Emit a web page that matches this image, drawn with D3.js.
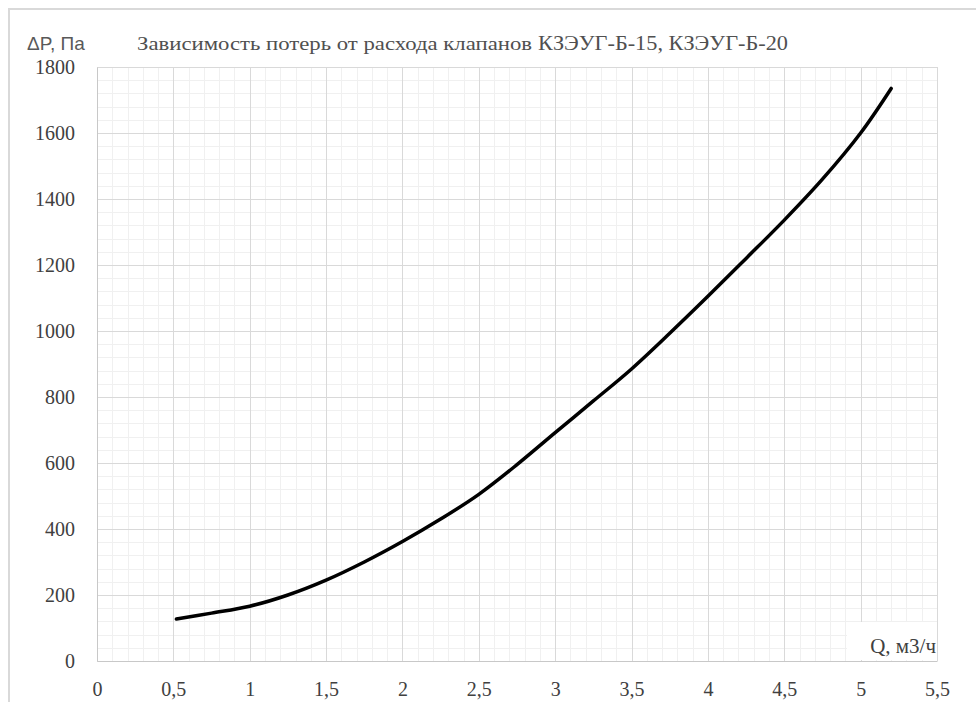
<!DOCTYPE html>
<html>
<head>
<meta charset="utf-8">
<script src="https://cdn.jsdelivr.net/npm/d3@7"></script>
<style>
  body { margin: 0; background: #fff; }
  svg { display: block; }
</style>
</head>
<body>
<div id="chart"></div>
<script>
// flow Q (m3/h) vs pressure loss dP (Pa)
var flowQ = [0.52, 0.75, 1, 1.25, 1.5, 1.75, 2, 2.25, 2.5, 2.75, 3, 3.25, 3.5, 3.75, 4, 4.25, 4.5, 4.75, 5, 5.2];
var lossP = [127, 145, 166, 200, 245, 300, 362, 430, 505, 595, 692, 788, 885, 993, 1105, 1220, 1336, 1460, 1600, 1735];
var xTicks = [0, 0.5, 1, 1.5, 2, 2.5, 3, 3.5, 4, 4.5, 5, 5.5];
var yTicks = [0, 200, 400, 600, 800, 1000, 1200, 1400, 1600, 1800];

var svgWidth = 976;
var svgHeight = 702;

// plot area
var margin = { top: 67, right: 39, bottom: 41, left: 97 };
var width = svgWidth - margin.left - margin.right;
var height = svgHeight - margin.top - margin.bottom;

var svg = d3.select("#chart")
  .append("svg")
  .attr("width", svgWidth)
  .attr("height", svgHeight);

// outer frame of the chart
svg.append("path")
  .attr("d", `M9,${svgHeight} V9 H${svgWidth}`)
  .attr("fill", "none")
  .attr("stroke", "#d9d9d9")
  .attr("stroke-width", 2);

var chartGroup = svg.append("g")
  .attr("transform", `translate(${margin.left}, ${margin.top})`);

var x = d3.scaleLinear().domain([0, 5.5]).range([0, width]);
var y = d3.scaleLinear().domain([0, 1800]).range([height, 0]);

// minor grid
var minorX = d3.range(0, 56).map(d => d / 10);
var minorY = d3.range(0, 1801, 40);

chartGroup.append("g")
  .selectAll("line")
  .data(minorX)
  .enter()
  .append("line")
  .attr("x1", d => Math.round(x(d)) + 0.5)
  .attr("x2", d => Math.round(x(d)) + 0.5)
  .attr("y1", 0)
  .attr("y2", height)
  .attr("stroke", "#f0f0f0");

chartGroup.append("g")
  .selectAll("line")
  .data(minorY)
  .enter()
  .append("line")
  .attr("y1", d => Math.round(y(d)) + 0.5)
  .attr("y2", d => Math.round(y(d)) + 0.5)
  .attr("x1", 0)
  .attr("x2", width)
  .attr("stroke", "#f0f0f0");

// major grid
chartGroup.append("g")
  .selectAll("line")
  .data(xTicks)
  .enter()
  .append("line")
  .attr("x1", d => Math.round(x(d)) + 0.5)
  .attr("x2", d => Math.round(x(d)) + 0.5)
  .attr("y1", 0)
  .attr("y2", height)
  .attr("stroke", "#d9d9d9");

chartGroup.append("g")
  .selectAll("line")
  .data(yTicks)
  .enter()
  .append("line")
  .attr("y1", d => Math.round(y(d)) + 0.5)
  .attr("y2", d => Math.round(y(d)) + 0.5)
  .attr("x1", 0)
  .attr("x2", width)
  .attr("stroke", "#d9d9d9");

// axes: only labels, no tick marks
var fmt = d => String(d).replace(".", ",");

var xAxis = chartGroup.append("g")
  .attr("transform", `translate(0, ${height})`)
  .call(d3.axisBottom(x).tickValues(xTicks).tickFormat(fmt).tickSize(0).tickPadding(21));

var yAxis = chartGroup.append("g")
  .call(d3.axisLeft(y).tickValues(yTicks).tickFormat(d => String(d)).tickSize(0).tickPadding(22));

[xAxis, yAxis].forEach(function(ax) {
  ax.select(".domain").attr("stroke", "#c8c8c8");
  ax.selectAll("text")
    .attr("font-family", "'Liberation Serif', serif")
    .attr("font-size", "20px")
    .attr("fill", "#404040");
});

// the curve
var points = flowQ.map((q, i) => [q, lossP[i]]);
var line = d3.line()
  .x(d => x(d[0]))
  .y(d => y(d[1]))
  .curve(d3.curveCatmullRom);

chartGroup.append("path")
  .datum(points)
  .attr("d", line)
  .attr("fill", "none")
  .attr("stroke", "#000")
  .attr("stroke-width", 3.5)
  .attr("stroke-linecap", "round");

// x axis title on a white box
svg.append("rect")
  .attr("x", 847)
  .attr("y", 622)
  .attr("width", 90)
  .attr("height", 38)
  .attr("fill", "#fff");

svg.append("text")
  .attr("x", 936)
  .attr("y", 653)
  .attr("text-anchor", "end")
  .attr("font-family", "'Liberation Serif', serif")
  .attr("font-size", "21px")
  .attr("fill", "#404040")
  .text("Q, м3/ч");

// y axis title
svg.append("text")
  .attr("x", 27)
  .attr("y", 50)
  .attr("font-family", "'Liberation Sans', sans-serif")
  .attr("font-size", "19px")
  .attr("fill", "#595959")
  .text("ΔP, Па");

// chart title
var title = svg.append("text")
  .attr("x", 137)
  .attr("y", 50)
  .attr("font-family", "'Liberation Serif', serif")
  .attr("fill", "#505050");

title.append("tspan")
  .attr("font-size", "18px")
  .attr("textLength", 395)
  .attr("lengthAdjust", "spacingAndGlyphs")
  .text("Зависимость потерь от расхода клапанов");

title.append("tspan")
  .attr("x", 538)
  .attr("font-size", "20px")
  .attr("textLength", 250)
  .attr("lengthAdjust", "spacingAndGlyphs")
  .text("КЗЭУГ-Б-15, КЗЭУГ-Б-20");
</script>
</body>
</html>
